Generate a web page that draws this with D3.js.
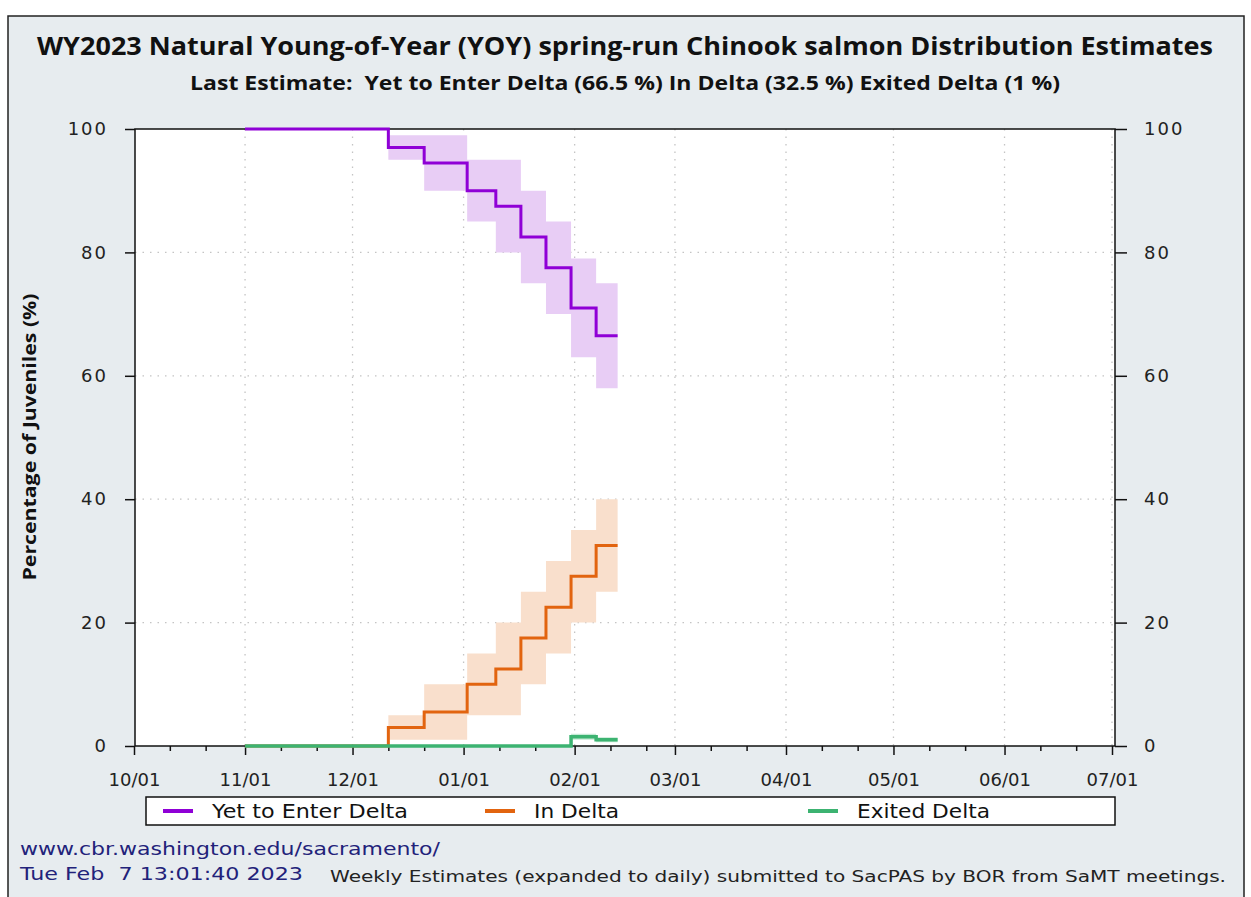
<!DOCTYPE html>
<html>
<head>
<meta charset="utf-8">
<script src="https://cdn.jsdelivr.net/npm/d3@7"></script>
<style>
  body { margin: 0; background: #fff; }
  text { font-family: "DejaVu Sans", sans-serif; }
</style>
</head>
<body>
<div id="chart"></div>
<script>
// weekly estimates (last value repeated to close the final step)
const estimateDates = ["2022-11-01","2022-12-11","2022-12-21","2023-01-02","2023-01-10",
                       "2023-01-17","2023-01-24","2023-01-31","2023-02-07","2023-02-13"];
const yetToEnter = [100, 97, 94.5, 90, 87.5, 82.5, 77.5, 71, 66.5, 66.5];
const yetLow     = [100, 95, 90, 85, 80, 75, 70, 63, 58, 58];
const yetHigh    = [100, 99, 99, 95, 95, 90, 85, 79, 75, 75];
const inDelta    = [0, 3, 5.5, 10, 12.5, 17.5, 22.5, 27.5, 32.5, 32.5];
const inLow      = [0, 1, 1, 5, 5, 10, 15, 20, 25, 25];
const inHigh     = [0, 5, 10, 15, 20, 25, 30, 35, 40, 40];
const exited     = [0, 0, 0, 0, 0, 0, 0, 1.5, 1, 1];
const exitLow    = [0, 0, 0, 0, 0, 0, 0, 1, 0.6, 0.6];
const exitHigh   = [0, 0, 0, 0, 0, 0, 0, 2, 1.4, 1.4];

const seriesNames = ["Yet to Enter Delta", "In Delta", "Exited Delta"];
const yTicks = [0, 20, 40, 60, 80, 100];
const xTickLabels = ["10/01","11/01","12/01","01/01","02/01","03/01","04/01","05/01","06/01","07/01"];

const w = 1251, h = 897;
const L = 135, R = 1115, T = 129, B = 746;

const parse = d3.utcParse("%Y-%m-%d");
const dates = estimateDates.map(parse);

const series = [
  {name: seriesNames[0], v: yetToEnter, lo: yetLow,  hi: yetHigh,  line: "#8f00d6", band: "#e8cdf5", lw: 196},
  {name: seriesNames[1], v: inDelta,    lo: inLow,   hi: inHigh,   line: "#e2640f", band: "#f9dfcc", lw: 85},
  {name: seriesNames[2], v: exited,     lo: exitLow, hi: exitHigh, line: "#3cb371", band: "#c5ead5", lw: 133}
];

const x = d3.scaleUtc()
  .domain([Date.UTC(2022, 9, 1), Date.UTC(2023, 6, 1)])
  .range([L - 1, R - 3]);
const y = d3.scaleLinear().domain([0, 100]).range([B, T]);

const majorDates = d3.utcMonth.range(Date.UTC(2022, 9, 1), Date.UTC(2023, 6, 2));
const minorDates = d3.utcDay.range(Date.UTC(2022, 9, 1), Date.UTC(2023, 6, 1))
  .filter(d => d.getUTCDate() === 11 || d.getUTCDate() === 21);

const svg = d3.select("#chart").append("svg")
  .attr("width", w).attr("height", h);

// outer panel
svg.append("rect")
  .attr("x", 8).attr("y", 16).attr("width", 1236).attr("height", 895)
  .attr("fill", "#e7ecef").attr("stroke", "#222").attr("stroke-width", 1.5);

// plot background
svg.append("rect")
  .attr("x", L).attr("y", T).attr("width", R - L).attr("height", B - T)
  .attr("fill", "#fff");

// grid
const grid = svg.append("g").attr("stroke", "#c4c4c4").attr("stroke-width", 1.3)
  .attr("stroke-dasharray", "1.5,6");
grid.selectAll(".gy").data(yTicks.filter(d => d > 0 && d < 100)).enter().append("line")
  .attr("x1", L).attr("x2", R).attr("y1", d => y(d)).attr("y2", d => y(d));
grid.selectAll(".gx").data(majorDates.slice(1)).enter().append("line")
  .attr("x1", d => x(d)).attr("x2", d => x(d)).attr("y1", T).attr("y2", B);

// bands
series.forEach(s => {
  const area = d3.area()
    .x((d, i) => x(dates[i]))
    .y0((d, i) => y(s.lo[i]))
    .y1((d, i) => y(s.hi[i]))
    .curve(d3.curveStepAfter);
  svg.append("path").datum(s.v).attr("d", area).attr("fill", s.band);
});

// frame
svg.append("rect")
  .attr("x", L).attr("y", T).attr("width", R - L).attr("height", B - T)
  .attr("fill", "none").attr("stroke", "#111").attr("stroke-width", 1.5);

// axes
const xAxis = d3.axisBottom(x).tickValues(majorDates).tickFormat((d, i) => xTickLabels[i])
  .tickSize(9).tickPadding(18);
const xMinor = d3.axisBottom(x).tickValues(minorDates).tickFormat("").tickSize(5);

function styleAxis(g) {
  g.select(".domain").remove();
  g.selectAll(".tick line").attr("stroke", "#111").attr("stroke-width", 1.5);
  g.selectAll(".tick text").attr("fill", "#222").style("font-size", "18px")
    .style("font-family", "'DejaVu Sans', sans-serif");
}

svg.append("g").attr("transform", `translate(0,${B})`).call(xMinor).call(styleAxis);
svg.append("g").attr("transform", `translate(0,${B})`).call(xAxis).call(styleAxis);
svg.append("g").attr("transform", `translate(${L},0)`)
  .call(d3.axisLeft(y).tickValues(yTicks).tickSize(10).tickPadding(17)).call(styleAxis)
  .selectAll(".tick text").attr("letter-spacing", "2px");
svg.append("g").attr("transform", `translate(${R},0)`)
  .call(d3.axisRight(y).tickValues(yTicks).tickSize(12).tickPadding(17)).call(styleAxis)
  .selectAll(".tick text").attr("letter-spacing", "2px");

// lines
series.forEach(s => {
  const line = d3.line()
    .x((d, i) => x(dates[i]))
    .y(d => y(d))
    .curve(d3.curveStepAfter);
  svg.append("path").datum(s.v).attr("d", line)
    .attr("fill", "none").attr("stroke", s.line)
    .attr("stroke-width", s.name === "Exited Delta" ? 3.5 : 3);
});

// titles
svg.append("text").attr("x", 625).attr("y", 55).attr("text-anchor", "middle")
  .style("font-family", "'Open Sans', sans-serif").style("font-weight", "bold")
  .style("font-size", "25px").attr("fill", "#111")
  .attr("textLength", 1176).attr("lengthAdjust", "spacingAndGlyphs")
  .text("WY2023 Natural Young-of-Year (YOY) spring-run Chinook salmon Distribution Estimates");
svg.append("text").attr("x", 625).attr("y", 90).attr("text-anchor", "middle")
  .style("font-family", "'Open Sans', sans-serif").style("font-weight", "bold")
  .style("font-size", "19px").attr("fill", "#111")
  .attr("xml:space", "preserve")
  .attr("textLength", 870).attr("lengthAdjust", "spacingAndGlyphs")
  .text("Last Estimate:  Yet to Enter Delta (" + yetToEnter[yetToEnter.length - 1] + " %) In Delta ("
        + inDelta[inDelta.length - 1] + " %) Exited Delta (" + exited[exited.length - 1] + " %)");

svg.append("text")
  .attr("transform", "translate(36,437) rotate(-90)").attr("text-anchor", "middle")
  .style("font-family", "'Open Sans', sans-serif").style("font-weight", "bold")
  .style("font-size", "18px").attr("fill", "#111")
  .attr("textLength", 287).attr("lengthAdjust", "spacingAndGlyphs")
  .text("Percentage of Juveniles (%)");

// legend
const lg = svg.append("g");
lg.append("rect").attr("x", 146).attr("y", 797).attr("width", 969).attr("height", 28)
  .attr("fill", "#fff").attr("stroke", "#111").attr("stroke-width", 1.5);
const legendX = [163, 485, 808];
series.forEach((s, i) => {
  lg.append("line").attr("x1", legendX[i]).attr("x2", legendX[i] + 30)
    .attr("y1", 811).attr("y2", 811).attr("stroke", s.line).attr("stroke-width", 4);
  lg.append("text").attr("x", legendX[i] + 49).attr("y", 818)
    .style("font-size", "19px").attr("fill", "#111")
    .attr("textLength", s.lw).attr("lengthAdjust", "spacingAndGlyphs").text(s.name);
});

// footer
svg.append("text").attr("x", 20).attr("y", 855).style("font-size", "18px")
  .attr("fill", "#22227a").attr("textLength", 420).attr("lengthAdjust", "spacingAndGlyphs")
  .text("www.cbr.washington.edu/sacramento/");
svg.append("text").attr("x", 20).attr("y", 880).style("font-size", "18px")
  .attr("fill", "#22227a").attr("xml:space", "preserve")
  .attr("textLength", 283).attr("lengthAdjust", "spacingAndGlyphs")
  .text("Tue Feb  7 13:01:40 2023");
svg.append("text").attr("x", 330).attr("y", 882)
  .style("font-size", "16px").attr("fill", "#222")
  .attr("textLength", 896).attr("lengthAdjust", "spacingAndGlyphs")
  .text("Weekly Estimates (expanded to daily) submitted to SacPAS by BOR from SaMT meetings.");
</script>
</body>
</html>
